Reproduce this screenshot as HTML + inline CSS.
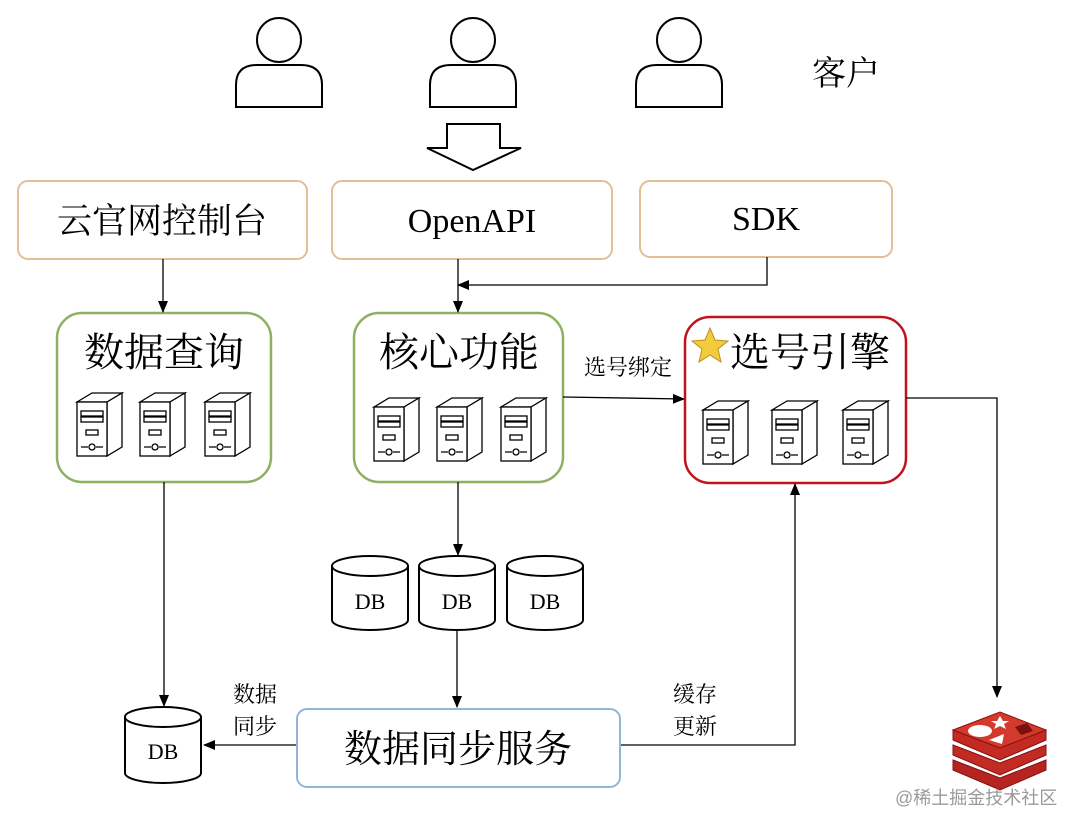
<!DOCTYPE html>
<html><head><meta charset="utf-8"><style>
body{margin:0;background:#fff}
svg text{font-family:"Liberation Serif","Noto Serif CJK SC",serif;fill:#000}
</style></head><body>
<svg width="1080" height="831" viewBox="0 0 1080 831" xmlns="http://www.w3.org/2000/svg">
<defs>
<marker id="a" markerWidth="12" markerHeight="12" refX="11" refY="6" orient="auto" markerUnits="userSpaceOnUse"><path d="M0,1 L12,6 L0,11 z" fill="#000"/></marker>
<g id="srv" fill="#fff" stroke="#000" stroke-width="1.3">
<path d="M0,9 L15,0 L45,0 L30,9 z"/><path d="M30,9 L45,0 L45,54 L30,63 z"/><rect x="0" y="9" width="30" height="54"/>
<rect x="4" y="18" width="22" height="5"/><rect x="4" y="24" width="22" height="5"/><rect x="9" y="37" width="12" height="5"/>
<path d="M4,54 H11 M19,54 H26"/><circle cx="15" cy="54" r="3"/>
</g>
<g id="person" fill="#fff" stroke="#000" stroke-width="2"><circle cx="0" cy="40" r="22"/><path d="M-43,107 V85 Q-43,65 -22,65 H22 Q43,65 43,85 V107 z"/></g>
</defs>
<use href="#person" x="279" y="0"/><use href="#person" x="473" y="0"/><use href="#person" x="679" y="0"/>
<text x="812" y="85" font-size="34">客户</text>
<path d="M447,124 H500 V148 H521 L473,170 L427,148 H447 z" fill="#fff" stroke="#000" stroke-width="2"/>
<g fill="#fff" stroke="#e2bf95" stroke-width="2">
<rect x="18" y="181" width="289" height="78" rx="10"/><rect x="332" y="181" width="280" height="78" rx="10"/><rect x="640" y="181" width="252" height="76" rx="10"/></g>
<text x="162" y="233" font-size="35" text-anchor="middle">云官网控制台</text>
<text x="472" y="232" font-size="34" text-anchor="middle">OpenAPI</text>
<text x="766" y="230" font-size="34" text-anchor="middle">SDK</text>
<rect x="57" y="313" width="214" height="169" rx="25" fill="#fff" stroke="#8eb063" stroke-width="2.5"/>
<rect x="354" y="313" width="209" height="169" rx="25" fill="#fff" stroke="#8eb063" stroke-width="2.5"/>
<rect x="685" y="317" width="221" height="166" rx="25" fill="#fff" stroke="#c0141c" stroke-width="2.5"/>
<text x="164" y="366" font-size="40" text-anchor="middle">数据查询</text>
<text x="459" y="366" font-size="40" text-anchor="middle">核心功能</text>
<text x="730" y="366" font-size="40">选号引擎</text>
<path d="M710,328 L715,340 L728,341 L718,349 L721,362 L710,355 L699,362 L702,349 L692,341 L705,340 z" fill="#f2cc3a" stroke="#b89020" stroke-width="1"/>
<use href="#srv" x="77" y="393"/><use href="#srv" x="140" y="393"/><use href="#srv" x="205" y="393"/>
<use href="#srv" x="374" y="398"/><use href="#srv" x="437" y="398"/><use href="#srv" x="501" y="398"/>
<use href="#srv" x="703" y="401"/><use href="#srv" x="772" y="401"/><use href="#srv" x="843" y="401"/>
<g stroke="#000" stroke-width="1.3" fill="none" marker-end="url(#a)">
<path d="M163,259 V312"/><path d="M458,259 V312"/><path d="M767,257 V285 H458"/>
<path d="M563,397 L684,399"/><path d="M906,398 H997 V697"/>
<path d="M458,482 V555"/><path d="M457,630 V707"/>
<path d="M164,482 V706"/><path d="M297,745 H204"/><path d="M620,745 H795 V484"/>
</g>
<text x="628" y="375" font-size="22" text-anchor="middle">选号绑定</text>
<g fill="#fff" stroke="#000" stroke-width="2">
<path d="M332,566 V620 A38,10 0 0 0 408,620 V566"/><ellipse cx="370" cy="566" rx="38" ry="10"/>
<path d="M419,566 V620 A38,10 0 0 0 495,620 V566"/><ellipse cx="457" cy="566" rx="38" ry="10"/>
<path d="M507,566 V620 A38,10 0 0 0 583,620 V566"/><ellipse cx="545" cy="566" rx="38" ry="10"/>
<path d="M125,717 V773 A38,10 0 0 0 201,773 V717"/><ellipse cx="163" cy="717" rx="38" ry="10"/>
</g>
<text x="370" y="609" font-size="22" text-anchor="middle">DB</text>
<text x="457" y="609" font-size="22" text-anchor="middle">DB</text>
<text x="545" y="609" font-size="22" text-anchor="middle">DB</text>
<text x="163" y="759" font-size="22" text-anchor="middle">DB</text>
<rect x="297" y="709" width="323" height="78" rx="10" fill="#fff" stroke="#93b5da" stroke-width="2"/>
<text x="458" y="762" font-size="38" text-anchor="middle">数据同步服务</text>
<text x="255" y="702" font-size="22" text-anchor="middle">数据</text>
<text x="255" y="734" font-size="22" text-anchor="middle">同步</text>
<text x="695" y="702" font-size="22" text-anchor="middle">缓存</text>
<text x="695" y="734" font-size="22" text-anchor="middle">更新</text>
<g stroke="#8a1010" stroke-width="1">
<path d="M953,760 L1000,778 L1046,760 V770 L1000,790 L953,770 z" fill="#b52420"/>
<path d="M953,745 L1000,763 L1046,745 V755 L1000,775 L953,755 z" fill="#c22a24"/>
<path d="M953,730 L1000,748 L1046,730 V740 L1000,760 L953,740 z" fill="#c22a24"/>
<path d="M953,730 L1000,712 L1046,730 L1000,748 z" fill="#d33a2c"/>
</g>
<ellipse cx="980" cy="731" rx="12" ry="6" fill="#fff"/>
<path d="M1000,716 l3,5 6,0 -5,3 2,5 -6,-3 -6,3 2,-5 -5,-3 6,0z" fill="#fff"/>
<path d="M989,740 L1004,734 L1002,744 z" fill="#fff"/>
<path d="M1015,727 L1027,723 L1033,731 L1021,735 z" fill="#7a1010"/>
<text x="895" y="804" font-size="18" style="fill:#9a9a9a;font-family:'Liberation Sans','Noto Sans CJK SC',sans-serif">@稀土掘金技术社区</text>
</svg>
</body></html>
